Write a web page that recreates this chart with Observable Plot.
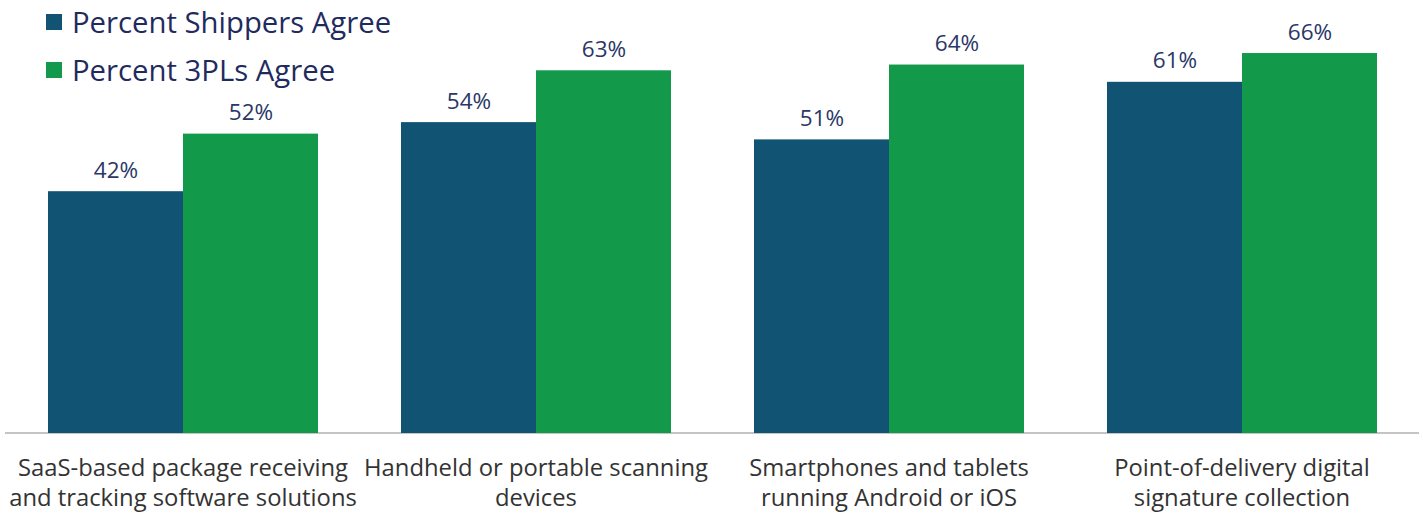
<!DOCTYPE html>
<html>
<head>
<meta charset="utf-8">
<script src="https://cdn.jsdelivr.net/npm/d3@7"></script>
<script src="https://cdn.jsdelivr.net/npm/@observablehq/plot@0.6"></script>
<style>
  html, body { margin: 0; padding: 0; background: #fff; }
  #wrap { position: relative; width: 1423px; height: 518px; font-family: "Open Sans", sans-serif; }
  #legend { position: absolute; left: 46px; top: 0; color: #1f2b5e; font-size: 29.3px; }
  .item { display: flex; align-items: center; height: 48px; }
  .item:first-child { margin-top: -2px; }
  .sw { width: 16px; height: 16px; margin-right: 10px; }
</style>
</head>
<body>
<div id="wrap"><div id="legend"></div></div>
<script>
const categories = [
  "SaaS-based package receiving\nand tracking software solutions",
  "Handheld or portable scanning\ndevices",
  "Smartphones and tablets\nrunning Android or iOS",
  "Point-of-delivery digital\nsignature collection"
];
const seriesNames = ["Percent Shippers Agree", "Percent 3PLs Agree"];
const shippers = [42, 54, 51, 61];
const threePLs = [52, 63, 64, 66];
const colors = ["#115372", "#12994a"];

const data = categories.flatMap((c, i) => [
  {category: c, series: seriesNames[0], value: shippers[i]},
  {category: c, series: seriesNames[1], value: threePLs[i]}
]);

const chart = Plot.plot({
  width: 1423,
  height: 518,
  marginLeft: 6,
  marginRight: 5,
  marginTop: 30,
  marginBottom: 85,
  style: {fontFamily: "Open Sans, sans-serif", background: "transparent"},
  fx: {domain: categories, paddingInner: 0.232, paddingOuter: 0.116, label: null},
  x: {domain: seriesNames, padding: 0, axis: null},
  y: {domain: [0, 70], axis: null},
  color: {domain: seriesNames, range: colors},
  marks: [
    Plot.ruleY([0], {stroke: "#c4c4c4", strokeWidth: 2, dy: -0.5, insetLeft: -42, insetRight: -42}),
    Plot.barY(data, {fx: "category", x: "series", y: "value", fill: "series", inset: 0}),
    Plot.text(data, {fx: "category", x: "series", y: "value", text: d => d.value + "%",
      lineAnchor: "bottom", dy: -14, fontSize: 22.5, fill: "#2a3768"}),
    Plot.axisFx({anchor: "bottom", tickSize: 0, tickPadding: 21, fontSize: 23.8, lineHeight: 1.26, fill: "#333333", label: null})
  ]
});
document.getElementById("wrap").prepend(chart);

const legend = document.getElementById("legend");
seriesNames.forEach((s, i) => {
  const it = document.createElement("div");
  it.className = "item";
  const sw = document.createElement("div");
  sw.className = "sw";
  sw.style.background = colors[i];
  const t = document.createElement("span");
  t.textContent = s;
  it.append(sw, t);
  legend.append(it);
});
</script>
</body>
</html>
